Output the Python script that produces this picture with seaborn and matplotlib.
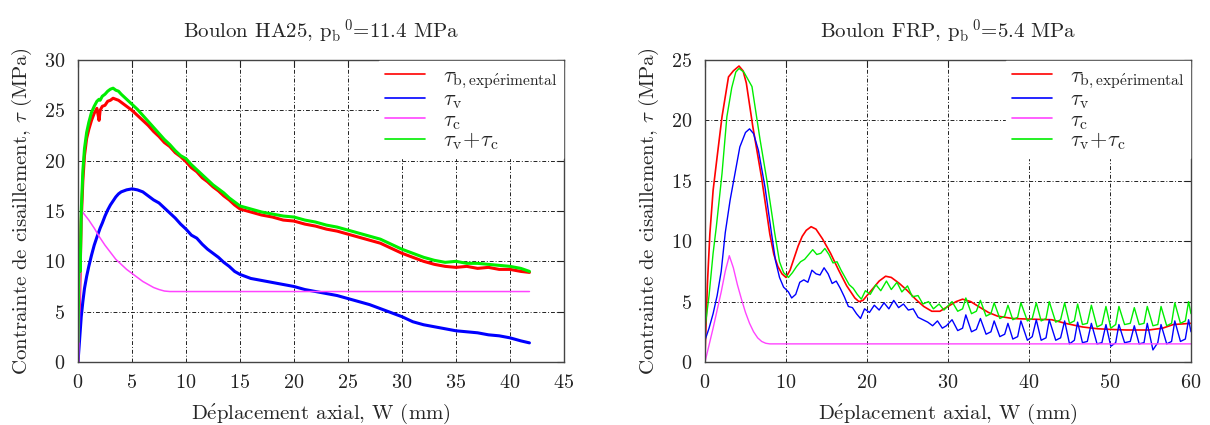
import matplotlib
matplotlib.use("Agg")
import matplotlib.pyplot as plt
import seaborn as sns

# ---------------- Boulon HA25 ----------------
ha_w = [0, 0.1, 0.2, 0.3, 0.45, 0.6, 0.8, 1.0, 1.25, 1.5,
        1.75, 1.95, 2.05, 2.25, 2.5, 2.75, 3.0, 3.25, 3.5, 3.75,
        4.0, 4.5, 5.0, 5.5, 6.0, 6.5, 7.0, 7.5, 8.0, 8.5,
        9.0, 9.5, 10.0, 10.5, 11.0, 11.5, 12.0, 12.5, 13.0, 13.5,
        14.0, 14.5, 15.0, 16, 17, 18, 19, 20, 21, 22,
        23, 24, 25, 26, 27, 28, 29, 30, 31, 32,
        33, 34, 35, 36, 37, 38, 39, 40, 41, 41.8]
ha_exp = [0, 4, 9, 14, 18, 20.5, 22.2, 23.1, 24.0, 24.7,
          25.2, 24.0, 25.0, 25.4, 25.5, 25.9, 26.0, 26.2, 26.1, 26.0,
          25.8, 25.4, 25.0, 24.5, 24.0, 23.5, 22.9, 22.4, 21.8, 21.4,
          20.8, 20.4, 19.9, 19.3, 18.9, 18.3, 17.9, 17.4, 17.0, 16.5,
          16.1, 15.6, 15.2, 14.9, 14.6, 14.4, 14.1, 14.0, 13.7, 13.5,
          13.2, 13.0, 12.7, 12.4, 12.1, 11.8, 11.3, 10.8, 10.4, 10.0,
          9.7, 9.5, 9.4, 9.5, 9.3, 9.4, 9.2, 9.2, 9.0, 8.9]
ha_v = [0, 1.5, 3, 4.5, 6, 7.3, 8.5, 9.5, 10.6, 11.6,
        12.4, 13.0, 13.3, 13.8, 14.5, 15.1, 15.6, 16.0, 16.4, 16.7,
        16.9, 17.1, 17.2, 17.1, 16.9, 16.5, 16.1, 15.8, 15.3, 14.8,
        14.3, 13.7, 13.2, 12.6, 12.3, 11.7, 11.2, 10.8, 10.4, 9.9,
        9.5, 9.0, 8.7, 8.3, 8.1, 7.9, 7.7, 7.5, 7.2, 7.0,
        6.8, 6.6, 6.3, 6.0, 5.7, 5.3, 4.9, 4.5, 4.0, 3.7,
        3.5, 3.3, 3.1, 3.0, 2.9, 2.7, 2.6, 2.4, 2.1, 1.9]
ha_sum = [2, 11, 9, 15, 19, 21.2, 22.8, 23.8, 24.8, 25.4,
          25.9, 26.1, 26.0, 26.4, 26.6, 26.9, 27.1, 27.2, 27.0, 26.9,
          26.6, 26.1, 25.6, 25.1, 24.5, 23.9, 23.3, 22.7, 22.1, 21.6,
          21.0, 20.5, 20.2, 19.6, 19.1, 18.6, 18.1, 17.6, 17.2, 16.8,
          16.3, 15.9, 15.5, 15.2, 14.9, 14.7, 14.5, 14.4, 14.1, 13.9,
          13.6, 13.4, 13.1, 12.8, 12.5, 12.2, 11.7, 11.2, 10.8, 10.4,
          10.1, 9.9, 10.0, 9.8, 9.8, 9.7, 9.6, 9.5, 9.3, 9.0]
ha_c_w = [0.05, 0.35, 1, 1.5, 2, 2.5, 3, 3.5, 4, 4.5, 5, 5.5, 6, 6.5, 7, 7.5, 8, 8.5, 41.8]
ha_c = [0, 15, 14.1, 13.3, 12.4, 11.6, 10.9, 10.2, 9.7, 9.2, 8.8, 8.4, 8.0, 7.7, 7.4, 7.2, 7.05, 7.0, 7.0]

# ---------------- Boulon FRP ----------------
frp_exp_w = [0, 0.3, 0.6, 1.0, 1.5, 2.1, 2.9, 3.5, 4.2, 4.7,
             5.1, 5.9, 7.0, 8.0, 8.5, 9.0, 9.5, 10.0, 10.5, 11,
             11.5, 12, 12.5, 13.1, 13.7, 14.5, 15.5, 16.5, 17.5, 18.5,
             19.0, 19.5, 20.5, 21.5, 22.3, 23.0, 24.0, 25.0, 26.0, 27.0,
             28.0, 29.0, 30.0, 31.0, 31.8, 32.8, 34.0, 35.0, 36.1, 38.0,
             40.0, 42.8, 44.5, 46.6, 48.5, 50.0, 52.0, 54.8, 56.5, 57.8, 60.0]
frp_exp = [0.5, 6.5, 10.6, 14.2, 17, 20.3, 23.6, 24.1, 24.5, 24.1,
           23.1, 19.5, 15.2, 10.6, 8.9, 7.9, 7.3, 7.0, 7.6, 8.6,
           9.6, 10.4, 10.9, 11.2, 11.0, 10.2, 9.0, 7.6, 6.3, 5.3,
           5.0, 5.1, 5.9, 6.7, 7.1, 7.0, 6.5, 5.9, 5.2, 4.6,
           4.2, 4.2, 4.6, 5.0, 5.2, 5.0, 4.5, 4.1, 3.8, 3.6,
           3.55, 3.5, 3.2, 2.9, 2.75, 2.7, 2.65, 2.65, 2.8, 3.1, 3.2]

frp_sum_w = [0, 0.5, 1.0, 1.4, 2.1, 2.7, 3.3, 3.8, 4.2, 4.8,
             5.8, 6.8, 7.6, 8.6, 9.2, 9.7, 10.3, 10.8, 11.3, 11.8,
             12.3, 12.8, 13.3, 13.8, 14.3, 14.8, 15.3, 15.8, 16.3, 16.8,
             17.3, 17.8, 18.3, 18.8, 19.3, 19.8, 20.4, 21.1, 21.7, 22.4,
             23.0, 23.7, 24.3, 25.0, 25.6, 26.3, 26.9, 27.6, 28.2, 28.9, 29.5,
             30.5, 31.2, 31.8, 32.2, 32.9, 33.5, 34.0, 34.7, 35.3, 35.7, 36.4, 37.0,
             37.4, 38.0, 38.6, 39.0, 39.8, 40.4, 40.9, 41.5, 42.1, 42.5, 43.3, 43.9,
             44.4, 45.0, 45.6, 46.0, 46.6, 47.2, 47.7, 48.4, 49.0, 49.5, 50.1, 50.7,
             51.1, 51.8, 52.5, 53.0, 53.6, 54.2, 54.6, 55.3, 55.9, 56.3, 57.0, 57.6,
             58.0, 58.7, 59.3, 59.7, 60.0]
frp_sum = [2.8, 5.5, 9.0, 11.2, 15.6, 20.3, 22.7, 24.0, 24.3, 24.0,
           22.8, 18.4, 15.2, 10.7, 8.3, 7.4, 7.0, 7.4, 7.9, 8.3,
           8.5, 8.9, 9.3, 8.9, 9.0, 9.4, 8.9, 8.2, 8.3, 7.6,
           7.0, 6.4, 6.1, 5.6, 5.2, 5.9, 5.6, 6.4, 5.9, 6.7,
           6.0, 6.6, 5.8, 6.3, 5.4, 5.5, 4.8, 5.0, 4.4, 4.8, 4.3,
           5.0, 4.2, 4.4, 5.3, 4.0, 4.2, 5.1, 3.8, 4.0, 4.9, 3.6, 3.8,
           4.7, 3.5, 3.7, 4.9, 3.4, 3.6, 4.9, 3.4, 3.6, 5.0, 3.3, 3.5,
           4.9, 3.2, 3.4, 4.8, 3.1, 3.2, 4.7, 2.9, 3.1, 4.6, 2.8, 3.1,
           4.6, 3.1, 3.2, 4.5, 3.1, 3.2, 4.6, 3.0, 3.1, 4.6, 3.0, 3.2,
           4.9, 3.2, 3.4, 5.0, 4.0]

frp_v_w = [0, 0.5, 1.0, 1.5, 2.0, 2.5, 3.1, 3.7, 4.3, 5.0,
           5.5, 6.0, 6.6, 7.4, 8.2, 8.7, 9.2, 9.7, 10.3, 10.7,
           11.2, 11.7, 12.2, 12.7, 13.2, 13.7, 14.2, 14.7, 15.2, 15.7,
           16.2, 16.7, 17.2, 17.7, 18.2, 18.7, 19.2, 19.7, 20.3, 20.9,
           21.5, 22.1, 22.7, 23.3, 23.9, 24.5, 25.1, 25.7, 26.3, 26.9,
           27.5, 28.1, 28.7, 29.3, 29.8,
           30.5, 31.2, 31.8, 32.2, 32.9, 33.5, 34.0, 34.7, 35.3, 35.7, 36.4, 37.0,
           37.4, 38.0, 38.6, 39.0, 39.8, 40.4, 40.9, 41.5, 42.1, 42.5, 43.3, 43.9,
           44.4, 45.0, 45.6, 46.0, 46.6, 47.2, 47.7, 48.4, 49.0, 49.5, 50.1, 50.7,
           51.1, 51.8, 52.5, 53.0, 53.6, 54.2, 54.6, 55.3, 55.9, 56.3, 57.0, 57.6,
           58.0, 58.7, 59.3, 59.7, 60.0]
frp_v = [1.8, 2.8, 4.0, 5.5, 7.5, 10.7, 13.4, 15.6, 17.8, 19.0,
         19.3, 18.9, 17.5, 14.5, 10.7, 8.4, 7.0, 6.2, 5.8, 5.3,
         5.6, 6.6, 6.8, 6.6, 7.6, 7.3, 7.2, 7.8, 7.3, 6.5,
         6.7, 6.1, 5.4, 4.6, 4.5, 4.0, 3.6, 4.4, 4.1, 4.7,
         4.3, 4.9, 4.4, 5.1, 4.5, 4.8, 4.3, 4.4, 3.7, 3.5,
         3.3, 3.0, 3.4, 2.8, 3.0,
         3.5, 2.6, 2.8, 3.9, 2.5, 2.7, 3.6, 2.3, 2.5, 3.4, 2.1, 2.3,
         3.2, 1.9, 2.1, 3.4, 1.8, 2.1, 3.5, 1.8, 2.0, 3.5, 1.8, 2.0,
         3.4, 1.5, 1.8, 3.3, 1.6, 1.7, 3.2, 1.5, 1.6, 3.1, 1.3, 1.6,
         3.1, 1.6, 1.7, 3.0, 1.5, 1.6, 3.2, 1.0, 1.6, 3.1, 1.5, 1.7,
         3.4, 1.7, 1.9, 3.5, 2.5]

frp_c_w = [0, 1, 2, 2.5, 3.0, 3.5, 4, 4.5, 5, 5.5, 6, 6.5, 7, 7.5, 8, 60]
frp_c = [0, 2.8, 5.8, 7.5, 8.8, 7.8, 6.4, 5.2, 4.1, 3.2, 2.5, 2.0, 1.7, 1.55, 1.5, 1.5]

labels = [r'$\tau_{\mathrm{b,exp\acute{e}rimental}}$', r'$\tau_{\mathrm{v}}$',
          r'$\tau_{\mathrm{c}}$', r'$\tau_{\mathrm{v}}\!+\!\tau_{\mathrm{c}}$']
colors = ['#ff0000', '#0000ff', '#ff44ff', '#00ee00']

sns.set_style("white")
plt.rcParams['font.family'] = ['cmr10', 'DejaVu Serif']
plt.rcParams['mathtext.fontset'] = 'cm'
plt.rcParams['axes.formatter.use_mathtext'] = True
plt.rcParams['axes.unicode_minus'] = False

fig = plt.figure(figsize=(12.1, 4.25), dpi=100)
ax1 = fig.add_axes([78 / 1210, 63 / 425, 486 / 1210, 302 / 425])
ax2 = fig.add_axes([705 / 1210, 63 / 425, 486 / 1210, 302 / 425])


def draw(ax, series, lw):
    for (w, y), lab, col, width in zip(series, labels, colors, lw):
        sns.lineplot(x=w, y=y, ax=ax, color=col, lw=width, label=lab,
                     sort=False, estimator=None)


draw(ax1, [(ha_w, ha_exp), (ha_w, ha_v), (ha_c_w, ha_c), (ha_w, ha_sum)],
     [2.2, 2.2, 1.1, 2.2])
draw(ax2, [(frp_exp_w, frp_exp), (frp_v_w, frp_v), (frp_c_w, frp_c), (frp_sum_w, frp_sum)],
     [1.2, 1.0, 1.0, 1.0])

setups = [
    (ax1, 45, 30, 5, 5, r'Boulon HA25, $\mathrm{p_b}^{\,0}$=11.4 MPa'),
    (ax2, 60, 25, 10, 5, r'Boulon FRP, $\mathrm{p_b}^{\,0}$=5.4 MPa'),
]
for ax, xmax, ymax, xs, ys, title in setups:
    ax.set_xlim(0, xmax)
    ax.set_ylim(0, ymax)
    ax.set_xticks(range(0, xmax + 1, xs))
    ax.set_yticks(range(0, ymax + 1, ys))
    ax.grid(True, color='#222222', lw=0.7, ls=(0, (4, 2, 1, 2)))
    ax.set_axisbelow(True)
    ax.tick_params(direction='in', top=True, right=True, length=5, width=0.8,
                   labelsize=14.5, pad=9, colors='#222222')
    for sp in ax.spines.values():
        sp.set_color('#444444')
        sp.set_linewidth(1.0)
    ax.set_xlabel(r'D$\acute{\mathrm{e}}$placement axial, W (mm)', fontsize=15, labelpad=7)
    ax.set_ylabel(r'Contrainte de cisaillement, $\tau$ (MPa)', fontsize=15, labelpad=7)
    ax.set_title(title, fontsize=15, pad=15)
    leg = ax.legend(loc='upper right', fontsize=16, frameon=True, fancybox=False,
                    edgecolor='white', framealpha=1.0, handlelength=1.8,
                    handletextpad=0.8, labelspacing=-0.05, borderpad=0.25,
                    borderaxespad=0.05)
    for line in leg.get_lines():
        line.set_linewidth(1.2)

fig.savefig('out.png', dpi=100)
